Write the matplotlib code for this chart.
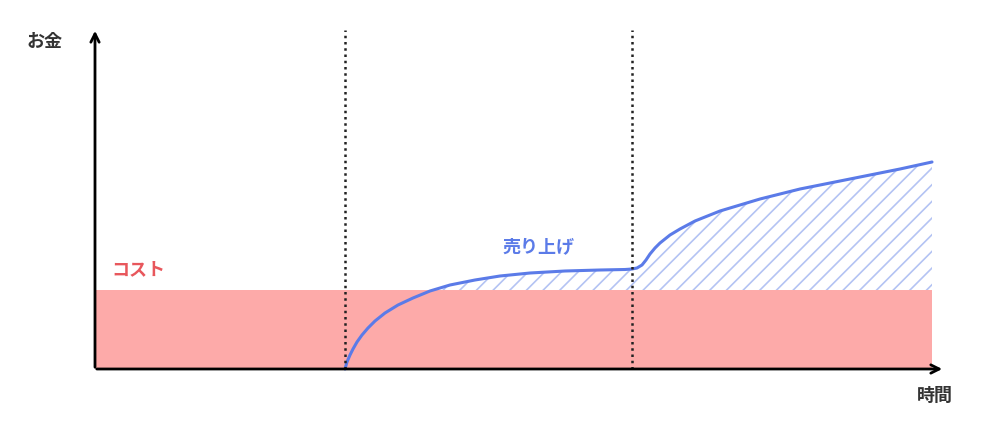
import matplotlib
matplotlib.use("Agg")
import matplotlib.pyplot as plt
import numpy as np

plt.rcParams['font.family'] = ['Noto Sans CJK JP', 'DejaVu Sans']

# data (units)
t = [250, 252, 255, 258, 262, 267, 273, 280, 290, 303, 318, 335, 355, 380, 405, 435, 470, 505, 530, 537,
     542, 547, 551, 555, 560, 565, 575, 585, 600, 625, 665, 705, 755, 805, 837]
rev = [0, 7, 14, 20, 27, 34, 41, 48, 56, 64, 71, 78, 84, 89, 93, 96, 98, 99, 99.5, 100,
       101, 104, 109, 115, 121, 126, 134, 140, 148, 158, 170, 180, 190, 200, 207]
cost = 79
t_end = 837
phase1 = 250
phase2 = 537

fig = plt.figure(figsize=(10, 4.24), dpi=100)
ax = fig.add_axes([0, 0, 1, 1])
ax.set_xlim(-95, 905)
ax.set_ylim(-55, 369)
ax.axis('off')

plt.rcParams['hatch.linewidth'] = 1.2
ax.fill_between([0, t_end], 0, cost, color='#fdaaa9', lw=0)
tt = np.array(t); rr = np.array(rev)
ax.fill_between(tt, cost, rr, where=rr > cost, interpolate=True, facecolor='none',
                edgecolor='#b4c3f3', hatch='//', lw=0)
ax.plot(t, rev, color='#5b7be8', lw=2.2, solid_capstyle='round', solid_joinstyle='round')

for x in (phase1, phase2):
    ax.plot([x, x], [0, 339], color='#222222', lw=1.8, ls=(0, (1, 1.5)))

ax.annotate('', xy=(850, 0), xytext=(-1, 0),
            arrowprops=dict(arrowstyle='->', lw=2, color='black', mutation_scale=15))
ax.annotate('', xy=(0, 341), xytext=(0, -1),
            arrowprops=dict(arrowstyle='->', lw=2, color='black', mutation_scale=15))

ax.text(-50, 327, 'お金', fontsize=13, fontweight='bold', color='#333333', ha='center', va='center')
ax.text(840, -26, '時間', fontsize=13, fontweight='bold', color='#333333', ha='center', va='center')
ax.text(43, 99, 'コスト', fontsize=13, fontweight='bold', color='#e8575c', ha='center', va='center')
ax.text(443, 122, '売り上げ', fontsize=13, fontweight='bold', color='#5b7be8', ha='center', va='center')

fig.savefig('out.png', dpi=100)
